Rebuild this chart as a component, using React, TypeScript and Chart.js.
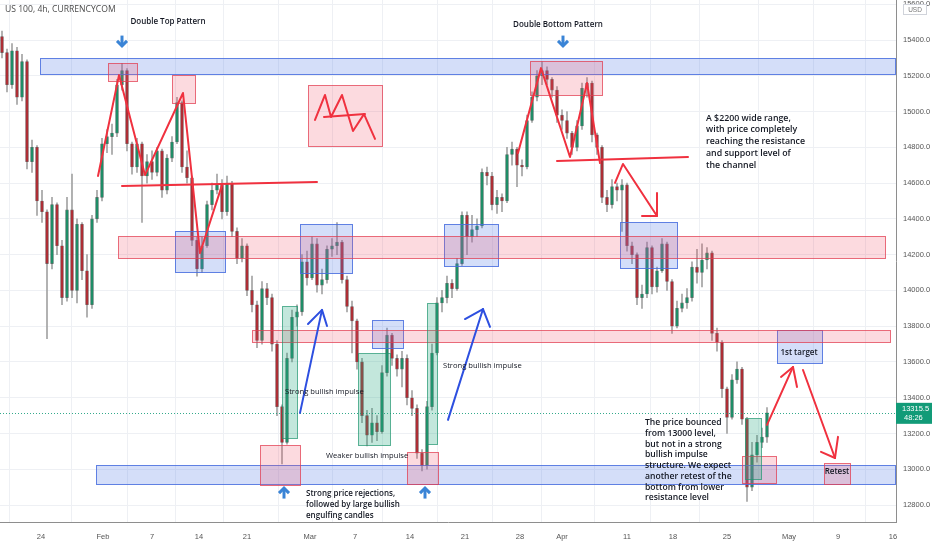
import React, { useEffect, useRef } from 'react';
import { Chart, registerables } from 'chart.js';
Chart.register(...registerables);

// ---- price data (US 100, 4h) : one entry per candle ----
const firstOpen = 15420;
const closes = [
  15330, 15150, 15340, 15080, 15280, 14720, 14800, 14500, 14440, 14150,
  14480, 14250, 13960, 14450, 14000, 14370, 14110, 13920, 14400, 14520,
  14820, 14860, 14880, 15150, 15230, 14820, 14690, 14820, 14640, 14720,
  14660, 14780, 14560, 14740, 14830, 15050, 14690, 14630, 14280, 14120,
  14250, 14480, 14560, 14590, 14440, 14600, 14330, 14180, 14250, 14000,
  13920, 13720, 14010, 13960, 13700, 13350, 13150, 13620, 13850, 13880,
  14160, 14070, 14260, 14030, 14060, 14230, 14250, 14270, 14060, 13910,
  13830, 13600, 13300, 13190, 13260, 13210, 13540, 13750, 13620, 13560,
  13620, 13400, 13340, 13090, 13020, 13350, 13650, 13930, 13960, 14040,
  14010, 14150, 14420, 14300, 14340, 14360, 14660, 14640, 14480, 14520,
  14500, 14760, 14790, 14700, 14690, 14950, 15080, 15200, 15230, 15180,
  15120, 14980, 14950, 14880, 14800, 14920, 15130, 15160, 14870, 14800,
  14520, 14480, 14580, 14560, 14590, 14250, 14200, 13960, 13980, 14240,
  14020, 14110, 14260, 14050, 13800, 13900, 13930, 13960, 14130, 14100,
  14170, 14210, 13760, 13710, 13450, 13290, 13500, 13560, 13280, 12900,
  13080, 13150, 13180, 13315.5,
];
const highs = [
  15450, 15350, 15380, 15360, 15320, 15290, 14840, 14810, 14560, 14450,
  14520, 14490, 14280, 14520, 14650, 14400, 14380, 14200, 14420, 14560,
  14850, 14900, 14930, 15180, 15270, 15240, 14830, 14850, 14830, 14760,
  14780, 14800, 14790, 14760, 14860, 15080, 15060, 14780, 14640, 14300,
  14300, 14500, 14600, 14650, 14620, 14640, 14610, 14350, 14290, 14260,
  14080, 13940, 14050, 14040, 13980, 13720, 13360, 13650, 13890, 13920,
  14200, 14220, 14300, 14290, 14120, 14250, 14290, 14380, 14280, 14080,
  13940, 13840, 13620, 13330, 13340, 13300, 13580, 13790, 13760, 13640,
  13660, 13640, 13440, 13360, 13110, 13380, 13700, 13960, 14000, 14080,
  14060, 14180, 14440, 14440, 14420, 14400, 14680, 14690, 14660, 14560,
  14540, 14800, 14830, 14800, 14730, 14980, 15110, 15230, 15280, 15250,
  15190, 15140, 15010, 15000, 14890, 14950, 15160, 15190, 15170, 14880,
  14810, 14560, 14620, 14600, 14620, 14600, 14270, 14210, 14030, 14270,
  14250, 14130, 14290, 14270, 14060, 13940, 13980, 14010, 14160, 14230,
  14260, 14240, 14220, 13790, 13720, 13460, 13530, 13600, 13570, 13290,
  13150, 13190, 13230, 13345,
];
const lows = [
  15300, 15110, 15130, 15040, 15060, 14680, 14660, 14420, 14380, 13730,
  14120, 14200, 13920, 13940, 13960, 13930, 14060, 13850, 13900, 14380,
  14500, 14770, 14760, 14860, 15120, 14780, 14650, 14660, 14380, 14600,
  14620, 14640, 14520, 14540, 14720, 14820, 14660, 14600, 14250, 14080,
  14100, 14240, 14450, 14540, 14400, 14420, 14300, 14150, 14160, 13970,
  13880, 13680, 13700, 13920, 13660, 13300, 13030, 13140, 13600, 13800,
  13860, 14030, 14060, 13990, 13980, 14040, 14190, 14200, 14040, 13880,
  13650, 13560, 13260, 13130, 13150, 13160, 13200, 13520, 13580, 13520,
  13460, 13360, 13300, 13060, 12990, 13000, 13330, 13640, 13880, 13930,
  13960, 14000, 14140, 14200, 14270, 14300, 14350, 14590, 14450, 14430,
  14440, 14490, 14700, 14580, 14640, 14680, 14940, 15060, 15150, 15150,
  15080, 14940, 14900, 14850, 14760, 14780, 14900, 15080, 14830, 14760,
  14490, 14440, 14460, 14500, 14330, 14220, 14150, 13920, 13900, 13960,
  13980, 13990, 14100, 14000, 13760, 13790, 13880, 13900, 13940, 14040,
  14020, 14120, 13720, 13660, 13400, 13200, 13280, 13480, 13250, 12820,
  12880, 13040, 13120, 13150,
];

// ---- axes ----
const xTickPos = [7.8, 20.2, 30, 39.4, 49, 61.6, 70.6, 81.6, 92.6, 103.6, 112, 125, 134.2, 145, 157.4, 167.2, 178.2];
const xTickText = ['24', 'Feb', '7', '14', '21', 'Mar', '7', '14', '21', '28', 'Apr', '11', '18', '25', 'May', '9', '16'];
const xMin = -0.4;
const xMax = 178.8;
const yMin = 12705;
const yMax = 15624;
const priceStep = 200;

// ---- drawings, anchored to (bar index, price) ----
const blueBoxes = [
  [7.6, 178.6, 15300, 15210],
  [18.8, 178.6, 13025, 12918],
  [34.6, 44.6, 14332, 14103],
  [59.6, 70, 14371, 14098],
  [74, 80.2, 13835, 13678],
  [88.4, 99.2, 14371, 14137],
  [123.6, 135, 14383, 14125],
  [155, 164, 13779, 13594],
];
const pinkBoxes = [
  [23.2, 176.6, 14305, 14180],
  [50, 177.6, 13780, 13712],
  [21.2, 27, 15271, 15171],
  [34, 38.6, 15204, 15048],
  [61.2, 76, 15148, 14807],
  [105.6, 120, 15283, 15093],
  [164.4, 169.6, 13035, 12918],
  [51.6, 59.6, 13136, 12912],
  [81, 87.2, 13097, 12918],
  [148, 154.8, 13075, 12924],
];
const greenBoxes = [
  [56, 59, 13913, 13175],
  [71.2, 77.6, 13650, 13136],
  [85, 87, 13930, 13142],
  [148.6, 151.8, 13287, 12946],
];
const redPaths = [
  [[19.2, 14640], [23.4, 15204], [28.6, 14645], [36.2, 15104], [39.6, 14209], [44, 14589]],
  [[24, 14584], [63, 14606]],
  [[62.6, 14953], [64.6, 15093], [65.8, 14970], [68, 15093], [70.2, 14891], [72.4, 14986], [74.6, 14847]],
  [[64.4, 14970], [72.6, 14986]],
  [[103.2, 14768], [107.8, 15243], [113.6, 14746], [117, 15160], [119.6, 14712]],
  [[111, 14724], [137.2, 14746]],
  [[122.6, 14601], [124.2, 14707], [131, 14416]],
  [[131, 14545], [131, 14416], [128, 14416]],
  [[153, 13248], [158.2, 13572]],
  [[155.8, 13516], [158.2, 13572], [159, 13460]],
  [[160.2, 13555], [166.6, 13063]],
  [[163.8, 13097], [166.6, 13063], [167.2, 13181]],
];
const bluePaths = [
  [[59.6, 13315], [64, 13891]],
  [[61.2, 13812], [64, 13891], [65, 13801]],
  [[89.2, 13276], [96.2, 13896]],
  [[92.6, 13840], [96.2, 13896], [97.6, 13796]],
];
const markerArrows = [
  [24, 15425, 15362, -1],
  [112.2, 15425, 15362, -1],
  [56.4, 12900, 12836, 1],
  [84.6, 12900, 12836, 1],
];
type Note = { x: number; p: number; align: CanvasTextAlign; size: number; weight: number; lh: number; lines: string[] };
const notes: Note[] = [
  { x: 33.2, p: 15500, align: 'center', size: 8, weight: 600, lh: 11, lines: ['Double Top Pattern'] },
  { x: 111.2, p: 15484, align: 'center', size: 8, weight: 600, lh: 11, lines: ['Double Bottom Pattern'] },
  { x: 140.8, p: 14964, align: 'left', size: 8.8, weight: 600, lh: 11.8, lines: ['A $2200 wide range,', 'with price completely', 'reaching the resistance', 'and support level of', 'the channel'] },
  { x: 56.6, p: 13432, align: 'left', size: 7.6, weight: 400, lh: 11, lines: ['Strong bullish impulse'] },
  { x: 88.2, p: 13578, align: 'left', size: 7.6, weight: 400, lh: 11, lines: ['Strong bullish impulse'] },
  { x: 64.8, p: 13075, align: 'left', size: 7.6, weight: 400, lh: 11, lines: ['Weaker bullish impulse'] },
  { x: 60.8, p: 12862, align: 'left', size: 8, weight: 600, lh: 11, lines: ['Strong price rejections,', 'followed by large bullish', 'engulfing candles'] },
  { x: 128.6, p: 13259, align: 'left', size: 8.6, weight: 600, lh: 10.7, lines: ['The price bounced', 'from 13000 level,', 'but not in a strong', 'bullish impulse', 'structure. We expect', 'another retest of the', 'bottom from lower', 'resistance level'] },
  { x: 159.4, p: 13650, align: 'center', size: 8, weight: 600, lh: 11, lines: ['1st target'] },
  { x: 167, p: 12985, align: 'center', size: 8, weight: 600, lh: 11, lines: ['Retest'] },
];
const headerText = 'US 100, 4h, CURRENCYCOM';
const timerText = '48:26';

const opens = closes.map((_, i) => (i === 0 ? firstOpen : closes[i - 1]));

const drawings = {
  id: 'drawings',
  afterDatasetsDraw(chart: any) {
    const { ctx, chartArea: a } = chart;
    const xs = chart.scales.x;
    const ys = chart.scales.y;
    const X = (v: number) => xs.getPixelForValue(v);
    const Y = (p: number) => ys.getPixelForValue(p);
    ctx.save();
    ctx.beginPath();
    ctx.rect(a.left, a.top, a.right - a.left, a.bottom - a.top);
    ctx.clip();

    // current price line
    const last = closes[closes.length - 1];
    ctx.strokeStyle = 'rgba(18,155,120,0.85)';
    ctx.lineWidth = 1;
    ctx.setLineDash([1, 2]);
    ctx.beginPath();
    ctx.moveTo(a.left, Math.round(Y(last)) + 0.5);
    ctx.lineTo(a.right, Math.round(Y(last)) + 0.5);
    ctx.stroke();
    ctx.setLineDash([]);

    const box = (b: number[], fill: string, stroke: string) => {
      const x0 = Math.round(X(b[0])) + 0.5;
      const x1 = Math.round(X(b[1])) + 0.5;
      const y0 = Math.round(Y(b[2])) + 0.5;
      const y1 = Math.round(Y(b[3])) + 0.5;
      ctx.fillStyle = fill;
      ctx.fillRect(x0, y0, x1 - x0, y1 - y0);
      ctx.strokeStyle = stroke;
      ctx.lineWidth = 1;
      ctx.strokeRect(x0, y0, x1 - x0, y1 - y0);
    };
    blueBoxes.forEach((b) => box(b, 'rgba(82,122,232,0.25)', 'rgba(70,108,222,0.85)'));
    pinkBoxes.forEach((b) => box(b, 'rgba(242,82,102,0.21)', 'rgba(226,62,82,0.75)'));
    greenBoxes.forEach((b) => box(b, 'rgba(40,170,130,0.28)', 'rgba(30,150,110,0.7)'));

    const path = (pts: number[][], color: string) => {
      ctx.strokeStyle = color;
      ctx.lineWidth = 2;
      ctx.lineJoin = 'round';
      ctx.lineCap = 'round';
      ctx.beginPath();
      pts.forEach((pt, i) => (i === 0 ? ctx.moveTo(X(pt[0]), Y(pt[1])) : ctx.lineTo(X(pt[0]), Y(pt[1]))));
      ctx.stroke();
    };
    redPaths.forEach((p) => path(p, '#f0313f'));
    bluePaths.forEach((p) => path(p, '#2d4fe0'));

    // small marker arrows
    markerArrows.forEach((m) => {
      const cx = X(m[0]);
      const yTop = Y(m[1]);
      const yBot = Y(m[2]);
      const dir = m[3];
      const tip = dir < 0 ? yBot : yTop;
      const tail = dir < 0 ? yTop : yBot;
      ctx.strokeStyle = '#3a84d6';
      ctx.lineWidth = 3;
      ctx.lineCap = 'butt';
      ctx.lineJoin = 'miter';
      ctx.beginPath();
      ctx.moveTo(cx, tail);
      ctx.lineTo(cx, tip + dir * 2);
      ctx.stroke();
      ctx.beginPath();
      ctx.moveTo(cx - 5, tip + dir * 6);
      ctx.lineTo(cx, tip + dir * 1);
      ctx.lineTo(cx + 5, tip + dir * 6);
      ctx.stroke();
    });

    // text notes
    ctx.fillStyle = '#131722';
    ctx.textBaseline = 'middle';
    notes.forEach((n) => {
      ctx.font = `${n.weight} ${n.size}px "Open Sans"`;
      ctx.textAlign = n.align;
      n.lines.forEach((t, i) => ctx.fillText(t, X(n.x), Y(n.p) + i * n.lh));
    });

    // header
    ctx.fillStyle = '#4a4a4a';
    ctx.textAlign = 'left';
    ctx.font = '400 8.6px "Open Sans"';
    ctx.fillText(headerText, a.left + 5, a.top + 10);
    ctx.restore();
  },
  afterDraw(chart: any) {
    const { ctx, chartArea: a } = chart;
    const ys = chart.scales.y;
    const last = closes[closes.length - 1];
    const yy = ys.getPixelForValue(last);
    ctx.save();
    ctx.fillStyle = '#129b78';
    ctx.fillRect(a.right, yy - 10, 36, 21);
    ctx.fillStyle = '#ffffff';
    ctx.textAlign = 'left';
    ctx.textBaseline = 'middle';
    ctx.font = '7.5px "Liberation Sans"';
    ctx.fillText(last.toFixed(1), a.right + 6, yy - 4);
    ctx.fillText(timerText, a.right + 8, yy + 5);
    // currency badge
    ctx.fillStyle = '#ffffff';
    ctx.fillRect(a.right + 7, 4, 24, 11);
    ctx.strokeStyle = '#d0d3da';
    ctx.lineWidth = 1;
    ctx.strokeRect(a.right + 7.5, 4.5, 23, 10);
    ctx.fillStyle = '#777';
    ctx.textAlign = 'center';
    ctx.font = '6.5px "Liberation Sans"';
    ctx.fillText('USD', a.right + 19, 10);
    ctx.restore();
  },
};

export default function App() {
  const ref = useRef<HTMLCanvasElement | null>(null);
  useEffect(() => {
    if (!ref.current) return;
    const bodies = closes.map((c, i) => ({ x: i, y: [opens[i], c] }));
    const wicks = closes.map((c, i) => ({
      x: i,
      y: [Math.min(lows[i], opens[i], c), Math.max(highs[i], opens[i], c)],
    }));
    const bodyColors = closes.map((c, i) => (c >= opens[i] ? '#1f8d67' : '#ad2e35'));
    const chart = new Chart(ref.current, {
      type: 'bar',
      data: {
        datasets: [
          {
            data: bodies as any,
            backgroundColor: bodyColors,
            borderColor: 'rgba(40,40,40,0.55)',
            borderWidth: 0.6,
            borderSkipped: false,
            barThickness: 3,
            minBarLength: 1,
            grouped: false,
            order: 0,
          } as any,
          {
            data: wicks as any,
            backgroundColor: '#a3a3a3',
            borderWidth: 0,
            barThickness: 1,
            grouped: false,
            order: 1,
          } as any,
        ],
      },
      options: {
        animation: false,
        responsive: false,
        layout: { padding: 0 },
        plugins: { legend: { display: false }, tooltip: { enabled: false } },
        scales: {
          x: {
            type: 'linear',
            min: xMin,
            max: xMax,
            offset: false,
            afterBuildTicks: (s: any) => {
              s.ticks = xTickPos.map((v) => ({ value: v }));
            },
            afterFit: (s: any) => {
              s.height = 28;
              s.paddingLeft = 0;
              s.paddingRight = 0;
            },
            ticks: {
              autoSkip: false,
              maxRotation: 0,
              padding: 10,
              color: '#555',
              font: { family: 'Liberation Sans', size: 7.5 },
              callback: (_v: any, i: number) => xTickText[i],
            },
            grid: { color: '#eef0f4', drawTicks: false },
            border: { color: '#8e8e8e' },
          },
          y: {
            position: 'right',
            min: yMin,
            max: yMax,
            afterFit: (s: any) => {
              s.width = 36;
              s.paddingTop = 0;
              s.paddingBottom = 0;
            },
            ticks: {
              stepSize: priceStep,
              includeBounds: false,
              padding: 7,
              color: '#555',
              font: { family: 'Liberation Sans', size: 7.5 },
              callback: (v: any) => Number(v).toFixed(1),
            },
            grid: { color: '#eef0f4', drawTicks: false },
            border: { color: '#8e8e8e' },
          },
        },
      },
      plugins: [drawings],
    });
    return () => chart.destroy();
  }, []);
  return (
    <div style={{ position: 'absolute', left: 0, top: 0, width: 932, height: 550, background: '#fff' }}>
      <canvas ref={ref} width={932} height={550} style={{ display: 'block', width: 932, height: 550 }} />
    </div>
  );
}
